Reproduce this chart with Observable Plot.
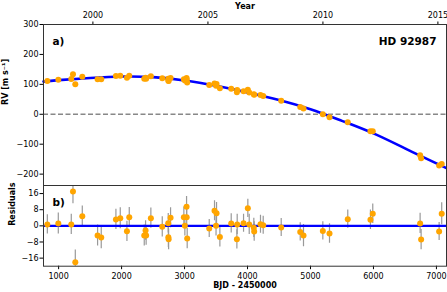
<!DOCTYPE html>
<html><head><meta charset="utf-8">
<script src="https://cdn.jsdelivr.net/npm/d3@7"></script>
<script src="https://cdn.jsdelivr.net/npm/@observablehq/plot@0.6"></script>
<style>
body{margin:0;background:#fff;}
#c{position:relative;width:447px;height:292px;overflow:hidden;font-family:"DejaVu Sans";background:#fff;}
#c svg{position:absolute;left:0;}
</style></head><body><div id="c"></div>
<script>
const bjd = [821,995,1201,1228,1265,1376,1619,1677,1910,1979,2085,2122,2360,2381,2390,2465,2646,2741,2743,2747,2778,2989,3005,3032,3034,3042,3392,3476,3500,3508,3561,3741,3831,3836,3937,4005,4027,4100,4106,4206,4249,4535,4837,4889,5196,5302,5592,5952,5989,6741,6757,7043,7084];
const rv = [111,115,118,134,100,125,117,117,128,129,122,129,119,122,119,127,120,119,112,111,121,117,113,121,116,106,98,103,95,101,87,85,74,81,77,82,73,67,65,64,61,45,24,19,0,-10,-27,-57,-57,-137,-147,-171,-166];
const resid = [0.7,1.2,0.7,17,-18,4.8,-4.8,-5.8,3.2,3.8,-2.7,4.3,-4.8,-2.3,-4.8,3.8,-0.5,1.3,-5.7,-6.7,4,4.3,0,9.5,4.3,-6.3,-1.3,7.5,0,6.3,-5.5,1.2,-6.7,0.7,1.3,8.7,0.7,-1,-2.8,0.8,0.3,-0.8,-3,-4.8,-2.5,-3.8,3.3,3,6,1.2,-6.8,-2.8,6];
const err = [4.8,5.2,5,6,6,5,5.2,5.5,5,5.2,5,4.8,5.2,4.8,4.8,5,5,4.8,5,5.2,5,5,5,5,5,5,4.5,5,5,5.3,5,4.8,4.8,5,4.5,4.5,5,4.8,4.8,4.5,4.5,4.5,4.5,5.5,4.5,4.8,4.5,4.8,4.8,5,5,4.5,5.5];
const modelBjd = [760,1000,1500,2000,2500,3000,3500,4000,4500,5000,5500,6000,6500,7000,7160];
const modelRv = [109,114,121,126,124,113,95,73,48,17,-22,-64,-114,-164,-180];
const rvTicks = [-200,-100,0,100,200,300];
const residTicks = [-16,-8,0,8,16];
const bjdTicks = [1000,2000,3000,4000,5000,6000,7000];
const yearTicks = [1544.5,3371.5,5197.5,7023.5];
const yearLabels = ["2000","2005","2010","2015"];

const obs = bjd.map((t,i)=>({t, rv: rv[i], r: resid[i], e: err[i]}));
const model = modelBjd.map((t,i)=>({t, v: modelRv[i]}));
const minus = d => String(d).replace("-", "\u2212");
const xDomain = [760, 7160];
const W = 447;
const style = {fontFamily:"DejaVu Sans", fontSize:"8px", background:"transparent", overflow:"visible", color:"#000"};
const orange = "#ffa500", blue = "#0000ff", frameC = "#333";

const topPlot = Plot.plot({
  width: W, height: 186, marginTop: 24, marginBottom: 1, marginLeft: 43, marginRight: 1,
  style,
  x: {domain: xDomain},
  y: {domain: [-238, 300]},
  marks: [
    Plot.ruleY([0], {stroke:"#888", strokeWidth:1.5, strokeDasharray:"5,2.5"}),
    Plot.line(model, {x:"t", y:"v", stroke:blue, strokeWidth:2.6, curve:"natural"}),
    Plot.ruleX(obs, {x:"t", y1:d=>d.rv-d.e, y2:d=>d.rv+d.e, stroke:"#999"}),
    Plot.dot(obs, {x:"t", y:"rv", r:3, fill:orange}),
    Plot.axisY({ticks: rvTicks, tickFormat: minus, tickSize:3.5, tickPadding:1.5, label:null}),
    Plot.axisX({anchor:"top", ticks: yearTicks, tickFormat: d=>yearLabels[yearTicks.indexOf(d)], tickSize:3.5, tickPadding:3, label:null}),
    Plot.frame({stroke:frameC}),
    Plot.text(["Year"], {frameAnchor:"top", dy:-21.5, fontWeight:"bold", fontSize:8}),
    Plot.text(["a)"], {frameAnchor:"top-left", dx:9, dy:13, fontWeight:"bold", fontSize:10.5, textAnchor:"start"}),
    Plot.text(["HD 92987"], {frameAnchor:"top-right", dx:-10, dy:12.7, fontWeight:"bold", fontSize:10.5, textAnchor:"end"}),
    Plot.text(["RV [m s\u207B\u00B9]"], {frameAnchor:"left", dx:-38, rotate:-90, fontWeight:"bold", fontSize:8})
  ]
});
topPlot.style.top = "0px";

const botPlot = Plot.plot({
  width: W, height: 112, marginTop: 5, marginBottom: 26.3, marginLeft: 43, marginRight: 1,
  style,
  x: {domain: xDomain},
  y: {domain: [-20, 20]},
  marks: [
    Plot.ruleX(obs, {x:"t", y1:d=>d.r-d.e, y2:d=>d.r+d.e, stroke:"#999", strokeWidth:1.2, clip:true}),
    Plot.ruleY([0], {stroke:blue, strokeWidth:2.2}),
    Plot.dot(obs, {x:"t", y:"r", r:3, fill:orange}),
    Plot.axisY({ticks: residTicks, tickFormat: minus, tickSize:3.5, tickPadding:1.5, label:null}),
    Plot.axisX({anchor:"bottom", ticks: bjdTicks, tickSize:3.5, tickPadding:3.5, tickFormat: d=>String(d), label:null}),
    Plot.frame({stroke:frameC}),
    Plot.text(["b)"], {frameAnchor:"top-left", dx:9, dy:13.5, fontWeight:"bold", fontSize:10.5, textAnchor:"start"}),
    Plot.text(["Residuals"], {frameAnchor:"left", dx:-31.5, rotate:-90, fontWeight:"bold", fontSize:8}),
    Plot.text(["BJD - 2450000"], {frameAnchor:"bottom", dy:21.8, fontWeight:"bold", fontSize:8})
  ]
});
botPlot.style.top = "180px";

const c = document.getElementById("c");
c.appendChild(topPlot);
c.appendChild(botPlot);
</script></body></html>
